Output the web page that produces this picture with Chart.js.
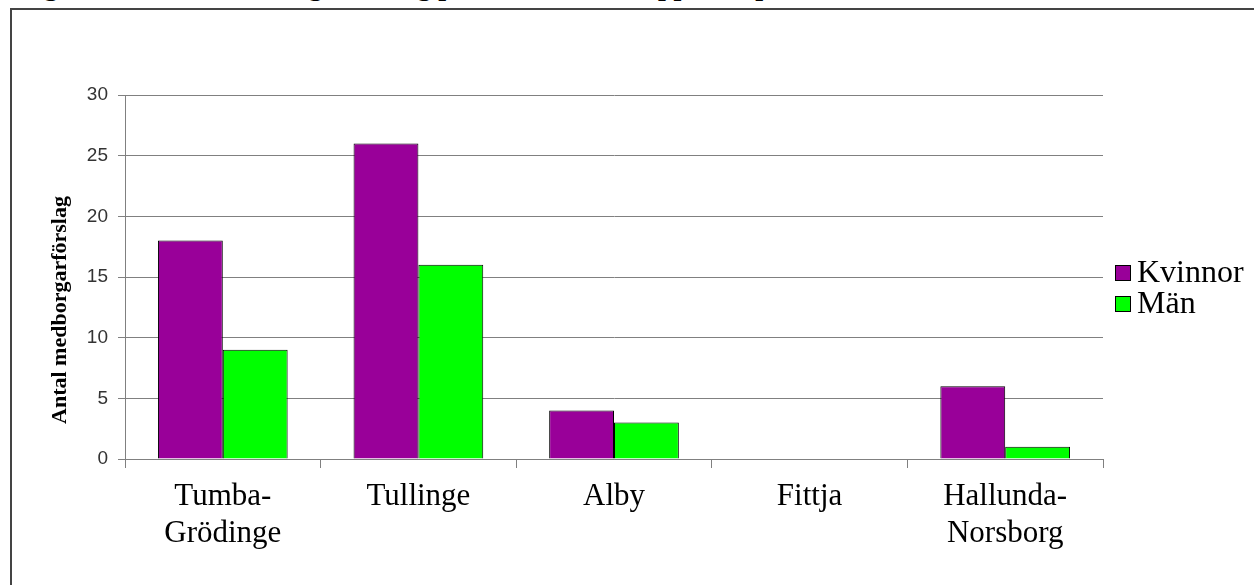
<!DOCTYPE html>
<html>
<head>
<meta charset="utf-8">
<script src="https://cdn.jsdelivr.net/npm/chart.js@4"></script>
<style>
  body { margin: 0; background: #fff; overflow: hidden; }
  #rubrik {
    position: absolute; left: 2px; top: -30px; white-space: nowrap;
    font: bold 28px "Liberation Serif", serif; color: #000;
  }
  #ram {
    position: absolute; left: 10px; top: 8px; width: 1300px; height: 700px;
    border-left: 2px solid #444; border-top: 2px solid #444; background: #fff;
  }
  #wrap { position: absolute; left: 0; top: 0; width: 1242px; height: 575px; }
</style>
</head>
<body>
<div id="rubrik">Diagram 3. Antal medborgarförslag per kommundel, uppdelat på kön</div>
<div id="ram"><div id="wrap"><canvas id="stapel"></canvas></div></div>
<script>
const ctx_st = 'stapel';

var kommundelar = [["Tumba-", "Grödinge"], "Tullinge", "Alby", "Fittja", ["Hallunda-", "Norsborg"]];
var kvinnor = [18, 26, 4, 0, 6];
var man = [9, 16, 3, 0, 1];
var yTicks = [0, 5, 10, 15, 20, 25, 30];

// egen förklaring till höger, ritas från datasetens färger
const forklaring = {
    id: 'forklaring',
    afterDraw(chart) {
        const c = chart.ctx;
        const x0 = chart.chartArea.right + 12;
        const y0 = chart.chartArea.top + 170;
        c.save();
        chart.data.datasets.forEach(function (ds, i) {
            const y = y0 + i * 31;
            c.fillStyle = ds.backgroundColor;
            c.fillRect(x0, y, 16, 16);
            c.strokeStyle = '#000';
            c.lineWidth = 1;
            c.strokeRect(x0 + 0.5, y + 0.5, 15, 15);
            c.fillStyle = '#000';
            c.font = '32px "Liberation Serif"';
            c.textBaseline = 'middle';
            c.fillText(ds.label, x0 + 22, y + 9);
        });
        c.restore();
    }
};

const stapel = new Chart(ctx_st, {
    type: 'bar',
    data: {
        labels: kommundelar,
        datasets: [{
            label: 'Kvinnor',
            data: kvinnor,
            backgroundColor: '#990099',
            borderColor: '#000',
            borderWidth: function (c) { return c.raw === 0 ? 0 : 1; },
            borderSkipped: 'bottom',
            categoryPercentage: 0.663,
            barPercentage: 1.0
        }, {
            label: 'Män',
            data: man,
            backgroundColor: '#00ff00',
            borderColor: '#000',
            borderWidth: function (c) { return c.raw === 0 ? 0 : 1; },
            borderSkipped: 'bottom',
            categoryPercentage: 0.663,
            barPercentage: 1.0
        }]
    },
    options: {
        responsive: true,
        maintainAspectRatio: false,
        animation: false,
        layout: {
            padding: { top: 85, right: 151, left: 0, bottom: 0 }
        },
        plugins: {
            legend: { display: false },
            title: { display: false },
            tooltip: { enabled: false }
        },
        scales: {
            x: {
                grid: {
                    drawOnChartArea: false,
                    color: '#808080',
                    tickLength: 9
                },
                border: { color: '#808080' },
                ticks: {
                    color: '#000',
                    padding: 11,
                    maxRotation: 0,
                    font: { family: '"Liberation Serif"', size: 31, lineHeight: 1.17 }
                },
                afterFit: function (s) { s.height = 126; }
            },
            y: {
                min: 0,
                max: 30,
                afterBuildTicks: function (s) { s.ticks = yTicks.map(function (v) { return { value: v }; }); },
                grid: { color: '#808080', tickLength: 7 },
                border: { color: '#808080' },
                ticks: {
                    color: '#333',
                    padding: 10,
                    font: { family: '"Liberation Sans"', size: 19 }
                },
                title: {
                    display: true,
                    // mellanslagen i slutet flyttar rubriken nedåt som i originalet
                    text: 'Antal medborgarförslag            ',
                    color: '#000',
                    padding: { top: 35, bottom: 4 },
                    font: { family: '"Liberation Serif"', size: 22, weight: 'bold' }
                },
                afterFit: function (s) { s.width = 113; }
            }
        }
    },
    plugins: [forklaring]
});
</script>
</body>
</html>
